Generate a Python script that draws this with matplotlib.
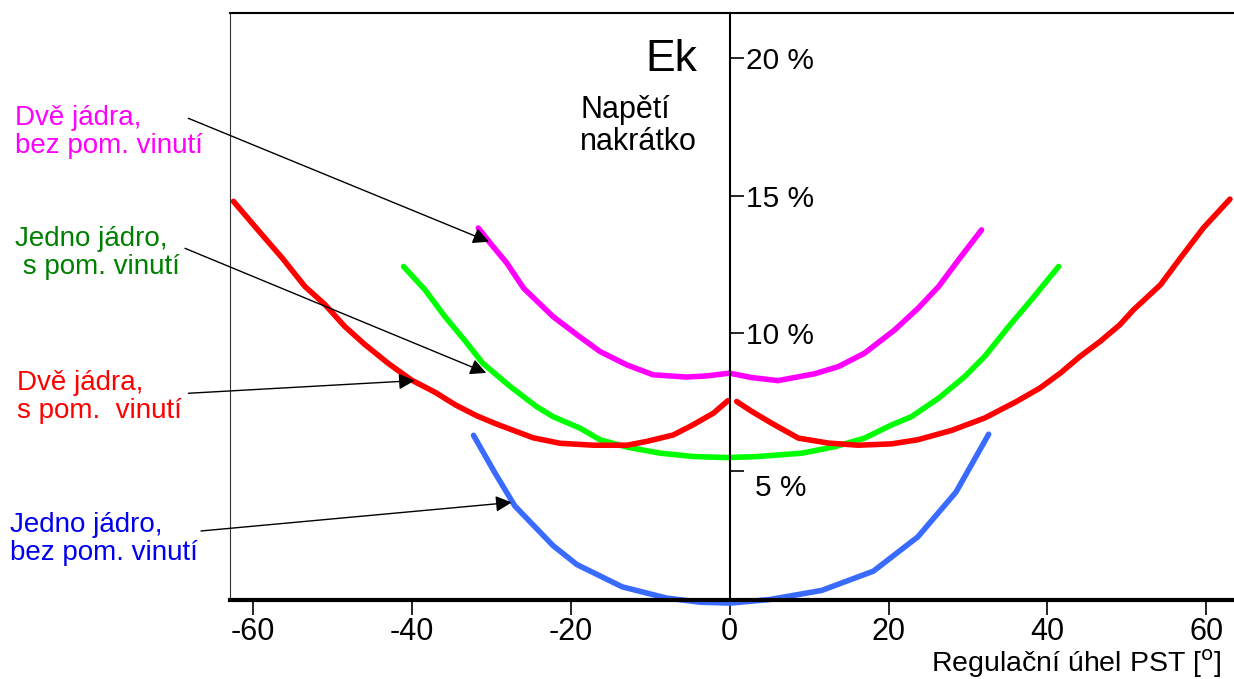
import matplotlib
matplotlib.use('Agg')
import matplotlib.pyplot as plt
from matplotlib.transforms import ScaledTranslation

plt.rcParams['font.family'] = ['Liberation Sans', 'DejaVu Sans']

# Curves (angle in degrees, Ek in %)
magenta_x = [-31.6, -30.1, -28.0, -25.9, -22.2, -19.2, -16.3, -12.9, -9.6, -5.4, -2.9, 0.0,
             2.8, 6.1, 10.75, 13.7, 17.0, 20.8, 23.75, 26.3, 28.8, 31.7]
magenta_y = [13.83, 13.28, 12.55, 11.64, 10.61, 9.95, 9.34, 8.85, 8.49, 8.41, 8.45, 8.55,
             8.39, 8.28, 8.53, 8.79, 9.28, 10.13, 10.92, 11.70, 12.67, 13.76]

green_x = [-41.0, -38.3, -35.8, -33.3, -31.0, -27.6, -24.3, -22.2, -18.8, -16.3, -12.9, -8.7,
           -4.55, -0.35, 3.6, 9.1, 13.3, 17.0, 20.4, 22.9, 26.3, 29.6, 32.1, 35.3, 37.8, 41.4]
green_y = [12.43, 11.58, 10.61, 9.74, 8.90, 8.07, 7.34, 6.97, 6.55, 6.13, 5.86, 5.64,
           5.52, 5.48, 5.52, 5.64, 5.88, 6.19, 6.67, 6.97, 7.64, 8.43, 9.16, 10.31, 11.16, 12.43]

red_left_x = [-62.4, -59.3, -56.3, -53.4, -50.9, -48.4, -45.9, -42.9, -40.0, -37.0, -34.5,
              -31.8, -29.3, -24.7, -21.3, -17.1, -12.9, -10.4, -7.1, -4.6, -2.0, -0.2]
red_left_y = [14.8, 13.75, 12.75, 11.7, 11.05, 10.25, 9.6, 8.9, 8.3, 7.85, 7.4,
              7.0, 6.7, 6.2, 6.0, 5.93, 5.93, 6.07, 6.3, 6.67, 7.1, 7.55]
red_right_x = [0.9, 2.8, 5.3, 8.65, 12.4, 16.2, 20.4, 23.7, 27.95, 32.1, 36.1, 39.05, 41.6,
               44.1, 46.6, 49.1, 50.8, 54.2, 56.7, 59.6, 62.95]
red_right_y = [7.52, 7.16, 6.73, 6.19, 6.01, 5.93, 5.98, 6.13, 6.47, 6.92, 7.52, 8.01, 8.55,
               9.16, 9.70, 10.31, 10.85, 11.76, 12.73, 13.83, 14.88]

blue_x = [-32.2, -29.6, -27.0, -22.2, -19.2, -13.5, -7.9, -3.6, 0.1, 5.1, 11.6, 18.1, 23.7,
          28.5, 32.6]
blue_y = [6.29, 4.97, 3.72, 2.28, 1.59, 0.78, 0.37, 0.22, 0.19, 0.32, 0.65, 1.35, 2.60,
          4.23, 6.33]

x_ticks = [-60, -40, -20, 0, 20, 40, 60]
x_tick_labels = ['-60', '-40', '-20', '0', '20', '40', '60']
y_ticks = [5, 10, 15, 20]
y_tick_labels = ['5 %', '10 %', '15 %', '20 %']

# label text, colour, arrow tip (data), text position (figure fraction)
labels = [
    ('Dvě jádra,\nbez pom. vinutí', '#FF00FF', (-30.25, 13.33), (0.012, 0.806)),
    ('Jedno jádro,\n s pom. vinutí', '#008000', (-30.6, 8.56), (0.012, 0.628)),
    ('Dvě jádra,\ns pom.  vinutí', '#FF0000', (-39.6, 8.28), (0.014, 0.416)),
    ('Jedno jádro,\nbez pom. vinutí', '#0000EE', (-27.4, 3.85), (0.008, 0.206)),
]
arrow_tails = [(0.1526, 0.8258), (0.1499, 0.6343), (0.1526, 0.4208), (0.1629, 0.2180)]

fig = plt.figure(figsize=(12.34, 6.79), dpi=100)
ax = fig.add_axes([0.1864, 0.1163, 0.8136, 0.8646])

lw = 4.0
ax.plot(magenta_x, magenta_y, color='#FF00FF', lw=lw, solid_capstyle='round')
ax.plot(green_x, green_y, color='#00FF00', lw=lw, solid_capstyle='round')
ax.plot(red_left_x, red_left_y, color='#FF0000', lw=lw, solid_capstyle='round')
ax.plot(red_right_x, red_right_y, color='#FF0000', lw=lw, solid_capstyle='round')
ax.plot(blue_x, blue_y, color='#3A6BFF', lw=lw, solid_capstyle='round', clip_on=False)

ax.set_xlim(-62.83, 63.46)
ax.set_ylim(0.3, 21.65)

# frame: vertical axis at zero angle
ax.spines['right'].set_position(('data', 0))
ax.spines['right'].set_linewidth(1.5)
ax.spines['top'].set_linewidth(1.5)
ax.spines['left'].set_linewidth(0.8)
ax.spines['left'].set_color('#333333')
ax.spines['bottom'].set_linewidth(3)

ax.yaxis.tick_right()
ax.set_yticks(y_ticks, labels=y_tick_labels)
ax.tick_params(axis='y', direction='out', length=10, width=1.2, pad=2, labelsize=21.5)
ax.set_xticks(x_ticks, labels=x_tick_labels)
ax.tick_params(axis='x', direction='out', length=11, width=1.2, pad=1.5, labelsize=22)

# the 5 % label sits a bit lower and to the right of its tick
lab5 = ax.get_yticklabels()[0]
lab5.set_transform(lab5.get_transform() + ScaledTranslation(0.09, -0.14, fig.dpi_scale_trans))

ax.text(-4.1, 19.95, 'Ek', fontsize=32, ha='right', va='center')
ax.text(-18.8, 17.53, 'Napětí\nnakrátko', fontsize=22, ha='left', va='center', linespacing=1.1)

fig.text(0.99, 0.010, r'Regulační úhel PST [$^{\mathrm{o}}$]', fontsize=20.5, ha='right',
         va='baseline')

for (txt, col, tip, pos), tail in zip(labels, arrow_tails):
    fig.text(pos[0], pos[1], txt, color=col, fontsize=20, ha='left', va='center',
             linespacing=1.1)
    ax.annotate('', xy=tip, xycoords='data', xytext=tail, textcoords='figure fraction',
                annotation_clip=False,
                arrowprops=dict(arrowstyle='-|>', color='black', lw=1,
                                mutation_scale=24, shrinkA=0, shrinkB=0))

fig.savefig('out.png', dpi=100)
